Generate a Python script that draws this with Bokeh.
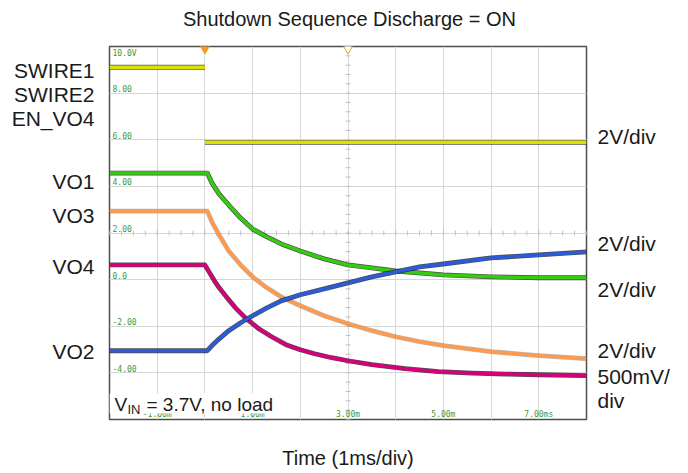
import numpy as np
from bokeh.plotting import figure
from bokeh.models import Label, FixedTicker, Grid, BoxAnnotation, LinearAxis
from bokeh.core.properties import value
from bokeh.embed import file_html
from bokeh.resources import INLINE

# ---- scope graticule labels (displayed volts: 2 V/div, time in ms: 1 ms/div)
y_grid = [-6, -4, -2, 0, 2, 4, 6, 8, 10]
x_grid = [-2, -1, 0, 1, 2, 3, 4, 5, 6, 7, 8]
y_top_label = ["10.0V"]
y_tick_vals = [8, 6, 4, 2, 0, -2, -4]
y_tick_labels = ["8.00", "6.00", "4.00", "2.00", "0.0", "-2.00", "-4.00"]
x_tick_vals = [-1, 1, 3, 5, 7]
x_tick_labels = ["-1.00m", "1.00m", "3.00m", "5.00m", "7.00ms"]
trig_t = [0]
cursor_t = [3]

# ---- texts around the screen
title_text = "Shutdown Sequence Discharge = ON"
xlabel_text = "Time (1ms/div)"
left_names = ["SWIRE1", "SWIRE2", "EN_VO4", "VO1", "VO3", "VO4", "VO2"]
right_names = ["2V/div", "2V/div", "2V/div", "2V/div", "500mV/", "div"]

# ---- traces (t in ms, displayed value on the 2 V/div screen scale)
sw_t = [-2, 0, np.nan, 0, 8]
sw_v = [9.11, 9.11, np.nan, 5.89, 5.89]

vo1_t = [-2, 0.05, 0.15, 0.3, 0.5, 0.75, 1.0, 1.3, 1.6, 2.0, 2.5, 3.0, 3.5, 4.0, 5.0, 6.0, 7.0, 8.0]
vo1_v = [4.57, 4.57, 4.14, 3.67, 3.20, 2.64, 2.17, 1.83, 1.53, 1.23, 0.89, 0.63, 0.50, 0.37, 0.20, 0.12, 0.08, 0.08]

vo3_t = [-2, 0.05, 0.15, 0.3, 0.5, 0.75, 1.0, 1.3, 1.6, 2.0, 2.5, 3.0, 3.5, 4.0, 4.5, 5.0, 6.0, 7.0, 8.0]
vo3_v = [2.94, 2.94, 2.47, 1.91, 1.23, 0.63, 0.12, -0.35, -0.74, -1.12, -1.55, -1.89, -2.19, -2.45, -2.66, -2.83, -3.09, -3.26, -3.39]

vo4_t = [-2, 0.0, 0.1, 0.2, 0.3, 0.45, 0.64, 0.85, 1.13, 1.4, 1.7, 2.0, 2.3, 2.66, 3.0, 3.5, 4.2, 4.9, 5.6, 6.3, 7.0, 8.0]
vo4_v = [0.63, 0.63, 0.29, -0.05, -0.35, -0.74, -1.21, -1.64, -2.11, -2.45, -2.79, -3.01, -3.18, -3.35, -3.48, -3.65, -3.82, -3.95, -4.01, -4.05, -4.08, -4.12]

vo2_t = [-2, 0.05, 0.15, 0.3, 0.5, 0.75, 1.0, 1.3, 1.6, 2.0, 2.5, 3.0, 3.5, 4.0, 4.5, 5.0, 6.0, 7.0, 8.0]
vo2_v = [-3.05, -3.05, -2.83, -2.54, -2.19, -1.85, -1.55, -1.21, -0.91, -0.65, -0.40, -0.14, 0.12, 0.33, 0.55, 0.67, 0.93, 1.06, 1.19]

YELLOW = "#e0e000"
GREEN = "#33cc11"
ORANGE = "#ff9a4d"
MAGENTA = "#d6007a"
BLUE = "#2a5cd6"
SCOPE_TXT = "#3a9a3a"
TXT = "#1a1a1a"

OFF = 1  # page offset of the canvas
W, H = 680, 471
FL, FT, FW, FH = 109, 46, 477, 374   # frame placement inside the canvas

p = figure(width=W, height=H, x_range=(-2, 8), y_range=(-6, 10),
           output_backend="svg", toolbar_location=None,
           x_axis_location=None, y_axis_location=None,
           min_border_left=FL, min_border_right=W - FL - FW,
           min_border_top=FT, min_border_bottom=H - FT - FH)
p.outline_line_color = "#4d4d4d"
p.outline_line_width = 1.5
p.background_fill_color = "white"
p.border_fill_color = "white"


def page_y_to_v(Y):
    # convert a page pixel row into the plot's value scale (for label placement)
    return 10 - (Y - OFF - FT) * 16.0 / FH


def text_axis(pos, names, standoff, size):
    return LinearAxis(ticker=FixedTicker(ticks=pos),
                      major_label_overrides={k: n for k, n in zip(pos, names)},
                      axis_line_color=None, major_tick_line_color=None,
                      minor_tick_line_color=None, major_tick_in=0, major_tick_out=0,
                      major_label_standoff=standoff,
                      major_label_text_font="Liberation Sans",
                      major_label_text_font_size=size,
                      major_label_text_color=TXT)


# channel names / scale labels via side axes, title and time label via top/bottom axes
left_pos = [page_y_to_v(Y) for Y in (71, 95, 119, 182, 216, 268, 353)]
right_pos = [page_y_to_v(Y) for Y in (137, 245, 291, 352, 378, 402)]
p.add_layout(text_axis(left_pos, left_names, 15, "21px"), "left")
p.add_layout(text_axis(right_pos, right_names, 11, "21px"), "right")
p.add_layout(text_axis([3.03], [title_text], 17, "20px"), "above")
p.add_layout(text_axis([3.0], [xlabel_text], 27, "20px"), "below")

p.add_layout(Grid(dimension=0, ticker=FixedTicker(ticks=x_grid),
                  grid_line_color="#d6d6d6", grid_line_width=1))
p.add_layout(Grid(dimension=1, ticker=FixedTicker(ticks=y_grid),
                  grid_line_color="#d6d6d6", grid_line_width=1))

# minor ticks on the centre lines of the graticule
p.scatter(x=3, y=np.arange(-6, 10.01, 0.4), marker="dash", size=5, color="#c0c0c0")
p.scatter(x=np.arange(-2, 8.01, 0.25), y=2, marker="dash", angle=np.pi / 2, size=5, color="#c0c0c0")

# scope labels inside the graticule
p.text(x=-2, y=y_tick_vals, text=y_tick_labels, x_offset=3, y_offset=-1,
       text_baseline="bottom", text_align="left", text_font=value("DejaVu Sans Mono"),
       text_font_size="8px", text_color=SCOPE_TXT)
p.text(x=-2, y=[10], text=y_top_label, x_offset=3, y_offset=2,
       text_baseline="top", text_align="left", text_font=value("DejaVu Sans Mono"),
       text_font_size="8px", text_color=SCOPE_TXT)
p.text(x=x_tick_vals, y=-6, text=x_tick_labels, y_offset=-1,
       text_baseline="bottom", text_align="center", text_font=value("DejaVu Sans Mono"),
       text_font_size="8px", text_color=SCOPE_TXT)

# traces: dark noisy edge underneath, coloured trace on top
for t, v, c, ea in [(sw_t, sw_v, YELLOW, 0.7), (vo1_t, vo1_v, GREEN, 0.75),
                    (vo3_t, vo3_v, ORANGE, 0.3), (vo4_t, vo4_v, MAGENTA, 0.75),
                    (vo2_t, vo2_v, BLUE, 0.75)]:
    p.line(t, v, color="#111111", line_width=4.8, line_alpha=ea, line_join="round")
    p.line(t, v, color=c, line_width=3.5, line_join="round")

# trigger / cursor markers at the top edge
p.scatter(x=trig_t, y=10, marker="inverted_triangle", size=13, fill_color="#f59a23", line_color="#f59a23")
p.scatter(x=cursor_t, y=10, marker="inverted_triangle", size=13, fill_color="white", line_color="#f59a23")

# white box behind the annotation text
p.add_layout(BoxAnnotation(left=-2, right=1.46, bottom=-5.74, top=-4.89,
                           fill_color="white", fill_alpha=1.0, line_color=None))


def lab(text, X, Y, size=19, align="left", color=TXT, font="Liberation Sans", **kw):
    p.add_layout(Label(x=X - OFF, y=Y - OFF, x_units="canvas", y_units="canvas",
                       text=text, text_align=align, text_baseline="middle",
                       text_font_size=f"{size}px", text_font=font, text_color=color, **kw))


# V_IN = 3.7V, no load
lab("V", 115, 405)
lab("IN", 128, 410, size=13)
lab("= 3.7V, no load", 147, 405)

open("out.html", "w").write(file_html(p, INLINE))
